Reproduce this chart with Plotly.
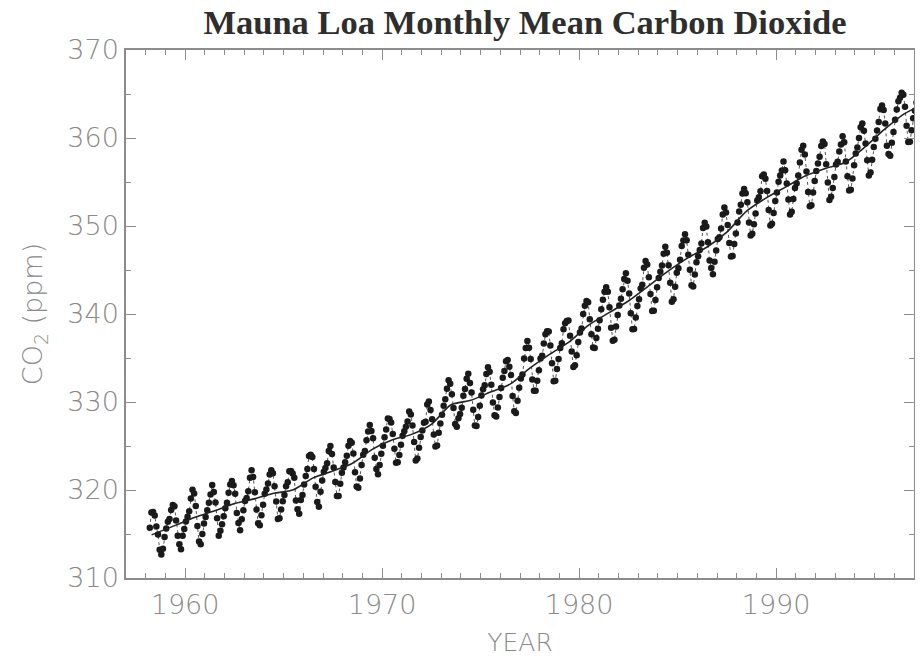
import plotly.graph_objects as go

# Monthly mean CO2 (ppm), Mauna Loa; rows = years, columns = Jan..Dec (None = no data)
years = list(range(1958, 1998))
monthly_co2 = [
    [None, None, 315.71, 317.45, 317.50, 317.10, 315.86, 314.93, 313.20, 312.66, 313.33, 314.67],
    [315.62, 316.38, 316.71, 317.72, 318.29, 318.15, 316.54, 314.80, 313.84, 313.26, 314.80, 315.58],
    [316.43, 316.97, 317.58, 319.02, 320.03, 319.59, 318.18, 315.91, 314.16, 313.83, 315.00, 316.19],
    [316.93, 317.70, 318.54, 319.48, 320.58, 319.77, 318.57, 316.79, 314.80, 315.38, 316.10, 317.01],
    [317.94, 318.56, 319.68, 320.63, 321.01, 320.55, 319.58, 317.40, 316.26, 315.42, 316.69, 317.69],
    [318.74, 319.08, 319.86, 321.39, 322.25, 321.47, 319.74, 317.77, 316.21, 315.99, 317.12, 318.31],
    [319.57, 320.07, 320.73, 321.77, 322.25, 321.89, 320.44, 318.70, 316.70, 316.79, 317.79, 318.71],
    [319.44, 320.44, 320.89, 322.13, 322.16, 321.87, 321.39, 318.81, 317.81, 317.30, 318.87, 319.42],
    [320.62, 321.59, 322.39, 323.87, 324.01, 323.75, 322.39, 320.37, 318.64, 318.10, 319.79, 321.08],
    [322.07, 322.50, 323.04, 324.42, 325.00, 324.09, 322.55, 320.92, 319.31, 319.31, 320.72, 321.96],
    [322.57, 323.15, 323.89, 325.02, 325.57, 325.36, 324.14, 322.03, 320.41, 320.25, 321.31, 322.84],
    [324.00, 324.42, 325.64, 326.66, 327.38, 326.70, 325.89, 323.67, 322.38, 321.78, 322.85, 324.12],
    [325.03, 325.99, 326.87, 328.13, 328.07, 327.66, 326.35, 324.69, 323.10, 323.16, 323.98, 325.13],
    [326.17, 326.68, 327.18, 327.78, 328.92, 328.57, 327.34, 325.46, 323.36, 323.57, 324.80, 326.01],
    [326.77, 327.63, 327.75, 329.72, 330.07, 329.09, 328.05, 326.32, 324.93, 325.06, 326.50, 327.55],
    [328.54, 329.56, 330.30, 331.50, 332.48, 332.07, 330.87, 329.31, 327.51, 327.18, 328.16, 328.64],
    [329.35, 330.71, 331.48, 332.65, 333.20, 332.16, 331.07, 329.12, 327.32, 327.28, 328.30, 329.58],
    [330.73, 331.46, 331.90, 333.17, 333.94, 333.45, 331.97, 329.95, 328.50, 328.34, 329.37, 330.58],
    [331.59, 332.75, 333.52, 334.64, 334.77, 334.00, 333.06, 330.68, 328.95, 328.75, 330.15, 331.62],
    [332.66, 333.13, 334.95, 336.13, 336.93, 336.17, 334.88, 332.56, 331.29, 331.27, 332.41, 333.60],
    [334.95, 335.25, 336.66, 337.69, 338.03, 338.01, 336.41, 334.41, 332.37, 332.41, 333.75, 334.90],
    [336.14, 336.69, 338.27, 338.95, 339.21, 339.26, 337.54, 335.75, 333.98, 334.19, 335.31, 336.81],
    [337.90, 338.34, 340.01, 340.93, 341.48, 341.33, 339.40, 337.70, 336.19, 336.15, 337.27, 338.32],
    [339.29, 340.55, 341.61, 342.53, 343.03, 342.54, 340.78, 338.44, 336.95, 337.08, 338.58, 339.88],
    [340.96, 341.73, 342.81, 343.97, 344.63, 343.79, 342.32, 340.09, 338.28, 338.29, 339.60, 340.90],
    [341.68, 342.90, 343.33, 345.25, 346.03, 345.63, 344.19, 342.27, 340.35, 340.38, 341.59, 343.05],
    [344.10, 344.79, 345.52, 346.84, 347.63, 346.97, 345.53, 343.55, 341.40, 341.67, 343.10, 344.70],
    [345.21, 346.16, 347.74, 348.34, 349.06, 348.38, 346.72, 345.02, 343.27, 343.13, 344.49, 345.88],
    [346.56, 347.28, 348.01, 349.77, 350.38, 349.93, 348.16, 346.08, 345.22, 344.51, 345.93, 347.21],
    [348.52, 348.73, 349.73, 351.31, 352.09, 351.53, 350.11, 348.08, 346.52, 346.59, 347.96, 349.16],
    [350.39, 351.64, 352.41, 353.69, 354.21, 353.72, 352.69, 350.40, 348.92, 349.13, 350.20, 351.41],
    [352.91, 353.27, 353.96, 355.64, 355.86, 355.37, 353.99, 351.81, 350.05, 350.25, 351.49, 352.85],
    [353.80, 355.04, 355.73, 356.32, 357.32, 356.34, 354.84, 353.01, 351.31, 351.62, 353.07, 354.33],
    [354.84, 355.73, 357.23, 358.66, 359.13, 358.13, 356.19, 353.85, 352.25, 352.35, 353.81, 355.12],
    [356.25, 357.11, 357.86, 359.09, 359.59, 359.33, 357.01, 354.94, 352.96, 353.32, 354.32, 355.57],
    [357.00, 357.31, 358.47, 359.27, 360.19, 359.52, 357.33, 355.64, 354.03, 354.12, 355.41, 356.91],
    [358.24, 358.92, 359.99, 361.23, 361.65, 360.81, 359.38, 357.46, 355.73, 356.08, 357.53, 358.98],
    [359.92, 360.86, 361.83, 363.30, 363.69, 363.19, 361.64, 359.12, 358.17, 357.99, 359.45, 360.68],
    [362.07, 363.24, 364.17, 364.57, 365.13, 364.92, 363.55, 361.38, 359.54, 359.58, 360.89, 362.24],
    [363.09, 364.03, 364.51, 366.35, 366.64, 365.59, 364.31, 362.25, 360.29, 360.82, 362.49, 364.38],
]

# Smoothed trend (annual means, plotted at mid-year)
trend_years = [1958.3, 1959.5, 1960.5, 1961.5, 1962.5, 1963.5, 1964.5, 1965.5, 1966.5, 1967.5,
               1968.5, 1969.5, 1970.5, 1971.5, 1972.5, 1973.5, 1974.5, 1975.5, 1976.5, 1977.5,
               1978.5, 1979.5, 1980.5, 1981.5, 1982.5, 1983.5, 1984.5, 1985.5, 1986.5, 1987.5,
               1988.5, 1989.5, 1990.5, 1991.5, 1992.5, 1993.5, 1994.5, 1995.5, 1996.5, 1997.5]
trend_co2 = [314.9, 315.98, 316.91, 317.64, 318.45, 318.99, 319.62, 320.04, 321.38, 322.16,
             323.04, 324.62, 325.68, 326.32, 327.46, 329.68, 330.19, 331.13, 332.03, 333.84,
             335.41, 336.84, 338.76, 340.12, 341.48, 343.15, 344.85, 346.35, 347.61, 349.31,
             351.69, 353.20, 354.45, 355.70, 356.54, 357.21, 358.96, 360.97, 362.74, 363.88]

x_ticks = [1960, 1970, 1980, 1990]
y_ticks = [310, 320, 330, 340, 350, 360, 370]

# flatten monthly table into time/value pairs
t_vals, c_vals = [], []
for yr, row in zip(years, monthly_co2):
    for m, v in enumerate(row):
        if v is not None:
            t_vals.append(yr + (m + 0.5) / 12.0)
            c_vals.append(v)

fig = go.Figure()
fig.add_trace(go.Scatter(
    x=t_vals, y=c_vals, mode="lines+markers",
    line=dict(color="#555555", width=1, dash="dot"),
    marker=dict(color="#1a1a1a", size=6.5),
    showlegend=False,
))
fig.add_trace(go.Scatter(
    x=trend_years, y=trend_co2, mode="lines",
    line=dict(color="#222222", width=1.6, shape="spline", smoothing=0.8),
    showlegend=False,
))

axis_gray = "#8c8c8c"
text_gray = "#8a8a8a"
tick_font = dict(family="DejaVu Sans", size=27, color=text_gray, weight=300)

# the page body has an 8px margin, so the figure is drawn 8px smaller and offset
fig.update_layout(
    width=915, height=650,
    margin=dict(l=118, r=9, t=42, b=80, autoexpand=False),
    paper_bgcolor="white", plot_bgcolor="white",
    title=dict(
        text="<b>Mauna Loa Monthly Mean Carbon Dioxide</b>",
        font=dict(family="Liberation Serif", size=34.5, color="#2e2e2e"),
        x=0.565, xanchor="center", y=0.979, yanchor="middle",
    ),
    xaxis=dict(
        range=[1957, 1997], tickvals=x_ticks, ticktext=[str(v) for v in x_ticks],
        ticks="inside", ticklen=10, tickwidth=1.3, tickcolor=axis_gray,
        showline=True, linecolor=axis_gray, linewidth=1.5, mirror="ticks",
        showgrid=False, zeroline=False, tickfont=tick_font, ticklabelstandoff=2,
        automargin=False,
        minor=dict(dtick=1, tick0=1957, ticks="inside", ticklen=5, tickcolor=axis_gray, tickwidth=1.3),
        title=dict(text="YEAR", font=dict(family="DejaVu Sans", size=25, color=text_gray, weight=300), standoff=14),
    ),
    yaxis=dict(
        range=[310, 370], tickvals=y_ticks, ticktext=[str(v) for v in y_ticks],
        ticks="inside", ticklen=10, tickwidth=1.3, tickcolor=axis_gray,
        showline=True, linecolor=axis_gray, linewidth=1.5, mirror="ticks",
        showgrid=False, zeroline=False, tickfont=tick_font, ticklabelstandoff=0,
        automargin=False,
        minor=dict(dtick=5, tick0=310, ticks="inside", ticklen=5, tickcolor=axis_gray, tickwidth=1.3),
        title=dict(text="CO<sub>2</sub> (ppm)", font=dict(family="DejaVu Sans", size=27, color=text_gray, weight=300), standoff=17),
    ),
)

fig.write_html("out.html")
